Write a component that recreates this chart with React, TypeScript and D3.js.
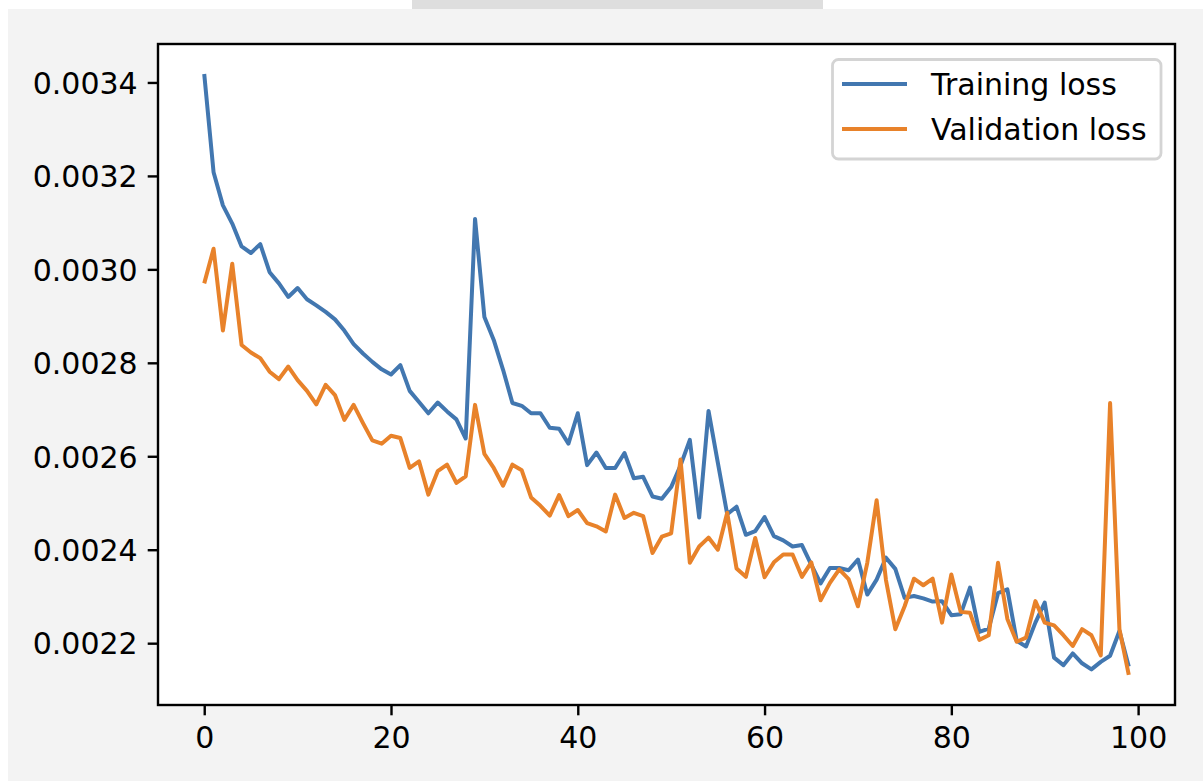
import * as d3 from "d3";
import { useEffect, useRef } from "react";

// epochs 0..99
const trainingLoss = [
  0.003418, 0.003208, 0.003137, 0.003098, 0.003049, 0.003035, 0.003054, 0.002994, 0.00297, 0.002941,
  0.00296, 0.002936, 0.002923, 0.002909, 0.002893, 0.002869, 0.00284, 0.00282, 0.002802, 0.002786,
  0.002775, 0.002795, 0.00274, 0.002716, 0.002692, 0.002715, 0.002696, 0.002679, 0.002638, 0.003108,
  0.002898, 0.002849, 0.002785, 0.002714, 0.002708, 0.002692, 0.002692, 0.002661, 0.002659, 0.002627,
  0.002692, 0.002581, 0.002608, 0.002575, 0.002575, 0.002607, 0.002553, 0.002556, 0.002514, 0.002509,
  0.002534, 0.002580, 0.002635, 0.002469, 0.002697, 0.002586, 0.002476, 0.002492, 0.002432, 0.00244,
  0.00247, 0.002429, 0.00242, 0.002407, 0.00241, 0.002368, 0.002328, 0.002361, 0.002361, 0.002356,
  0.002379, 0.002304, 0.002336, 0.002383, 0.002359, 0.002297, 0.002301, 0.002296, 0.002289, 0.00229,
  0.00226, 0.002262, 0.002319, 0.002224, 0.002231, 0.002307, 0.002315, 0.002205, 0.002193, 0.002244,
  0.002287, 0.002169, 0.002153, 0.002178, 0.002157, 0.002144, 0.00216, 0.002173, 0.002226, 0.00215,
];

const validationLoss = [
  0.00297, 0.003044, 0.002869, 0.003012, 0.002838, 0.002822, 0.00281, 0.002781, 0.002765, 0.002792,
  0.002763, 0.00274, 0.002711, 0.002753, 0.002731, 0.002678, 0.00271, 0.002671, 0.002634, 0.002627,
  0.002644, 0.002639, 0.002575, 0.002589, 0.002518, 0.002568, 0.002582, 0.002543, 0.002557, 0.00271,
  0.002605, 0.002575, 0.002537, 0.002582, 0.00257, 0.002512, 0.002494, 0.002473, 0.002517, 0.002472,
  0.002485, 0.002457, 0.00245, 0.002439, 0.002518, 0.002468, 0.002479, 0.002472, 0.002393, 0.002428,
  0.002435, 0.002593, 0.002372, 0.002407, 0.002426, 0.0024, 0.002479, 0.00236, 0.002342, 0.002425,
  0.002341, 0.002373, 0.00239, 0.00239, 0.002342, 0.002373, 0.002292, 0.002329, 0.002358, 0.002337,
  0.002279, 0.002372, 0.002506, 0.002335, 0.00223, 0.002279, 0.002338, 0.002324, 0.002338, 0.002244,
  0.002347, 0.002267, 0.002265, 0.002207, 0.002217, 0.002372, 0.002252, 0.002203, 0.002212, 0.00229,
  0.002244, 0.002238, 0.002217, 0.002194, 0.00223, 0.002217, 0.002174, 0.002714, 0.00223, 0.002132,
];

const seriesNames = ["Training loss", "Validation loss"];
const xTicks = [0, 20, 40, 60, 80, 100];
const yTicks = [0.0022, 0.0024, 0.0026, 0.0028, 0.003, 0.0032, 0.0034];

const W = 1203;
const H = 781;
const box = { left: 158, right: 1175, top: 44, bottom: 705 };
const colors = ["#4277b0", "#e8822a"];
const font = "'DejaVu Sans', sans-serif";
const fs = 30;

export default function App() {
  const svgRef = useRef<SVGSVGElement>(null);

  useEffect(() => {
    const svg = d3.select(svgRef.current);
    svg.selectChildren("*").remove();

    // page background + the little tab above
    svg.append("rect").attr("x", 0).attr("y", 0).attr("width", W).attr("height", H).attr("fill", "#ffffff");
    svg.append("rect").attr("x", 8).attr("y", 9).attr("width", W - 8).attr("height", H - 9).attr("fill", "#f3f3f3");
    svg.append("rect").attr("x", 412).attr("y", 0).attr("width", 411).attr("height", 9).attr("fill", "#dedede");

    const n = trainingLoss.length;
    const all = trainingLoss.concat(validationLoss);
    const lo = d3.min(all) as number;
    const hi = d3.max(all) as number;
    const padY = (hi - lo) * 0.05;
    const padX = (n - 1) * 0.05;

    const x = d3.scaleLinear().domain([-padX, n - 1 + padX]).range([box.left, box.right]);
    const y = d3.scaleLinear().domain([lo - padY, hi + padY]).range([box.bottom, box.top]);

    // plot area
    svg
      .append("rect")
      .attr("x", box.left)
      .attr("y", box.top)
      .attr("width", box.right - box.left)
      .attr("height", box.bottom - box.top)
      .attr("fill", "#ffffff");

    const line = d3
      .line<number>()
      .x((_, i) => x(i))
      .y((d) => y(d));

    [trainingLoss, validationLoss].forEach((s, k) => {
      svg
        .append("path")
        .attr("fill", "none")
        .attr("stroke", colors[k])
        .attr("stroke-width", 4)
        .attr("stroke-linejoin", "round")
        .attr("stroke-linecap", "butt")
        .attr("d", line(s));
    });

    // frame
    svg
      .append("rect")
      .attr("x", box.left)
      .attr("y", box.top)
      .attr("width", box.right - box.left)
      .attr("height", box.bottom - box.top)
      .attr("fill", "none")
      .attr("stroke", "#000")
      .attr("stroke-width", 2.4);

    // X-Axis
    const gx = svg
      .append("g")
      .attr("transform", `translate(0, ${box.bottom})`)
      .call(d3.axisBottom(x).tickValues(xTicks).tickFormat(d3.format("d")).tickSizeOuter(0).tickSize(10.3).tickPadding(10));
    gx.select(".domain").remove();

    // Y-Axis
    const gy = svg
      .append("g")
      .attr("transform", `translate(${box.left}, 0)`)
      .call(d3.axisLeft(y).tickValues(yTicks).tickFormat(d3.format(".4f")).tickSizeOuter(0).tickSize(10.3).tickPadding(10));
    gy.select(".domain").remove();

    [gx, gy].forEach((g) => {
      g.attr("font-family", font).attr("font-size", fs);
      g.selectAll(".tick line").attr("stroke", "#000").attr("stroke-width", 2.4);
      g.selectAll(".tick text").attr("fill", "#000");
    });
    gx.selectAll(".tick text").attr("dy", "0.74em");
    gy.selectAll(".tick text").attr("dy", "0.36em");

    // legend
    const lg = svg.append("g");
    lg.append("rect")
      .attr("x", 832.5)
      .attr("y", 59.5)
      .attr("width", 328.5)
      .attr("height", 99.5)
      .attr("rx", 6)
      .attr("fill", "#ffffff")
      .attr("fill-opacity", 0.8)
      .attr("stroke", "#d4d4d4")
      .attr("stroke-width", 2.8);

    seriesNames.forEach((name, k) => {
      const cy = 84 + k * 45;
      lg.append("line")
        .attr("x1", 842)
        .attr("x2", 907)
        .attr("y1", cy)
        .attr("y2", cy)
        .attr("stroke", colors[k])
        .attr("stroke-width", 4);
      lg.append("text")
        .attr("x", 931)
        .attr("y", cy + 10.6)
        .attr("font-family", font)
        .attr("font-size", fs)
        .attr("fill", "#000")
        .text(name);
    });
  }, []);

  return (
    <svg
      ref={svgRef}
      width={W}
      height={H}
      style={{ position: "absolute", left: 0, top: 0, display: "block" }}
    />
  );
}
